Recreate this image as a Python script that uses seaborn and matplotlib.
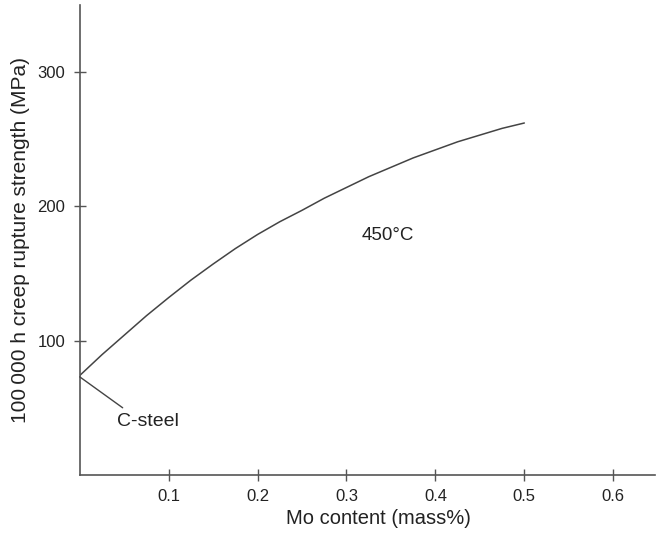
import matplotlib
matplotlib.use("Agg")
import matplotlib.pyplot as plt
import seaborn as sns
import pandas as pd

mo_content = [0.0, 0.025, 0.05, 0.075, 0.10, 0.125, 0.15, 0.175, 0.20, 0.225,
              0.25, 0.275, 0.30, 0.325, 0.35, 0.375, 0.40, 0.425, 0.45, 0.475, 0.50]
strength = [74, 89.5, 104, 118.5, 132, 145, 157, 168.5, 179, 188.5,
            197, 206, 214, 222, 229, 236, 242, 248, 253, 258, 262]
x_ticks = [0.1, 0.2, 0.3, 0.4, 0.5, 0.6]
y_ticks = [100, 200, 300]

sns.set_theme(style="white")
plt.rcParams["font.family"] = ["Liberation Sans", "DejaVu Sans"]

df = pd.DataFrame({"mo": mo_content, "s": strength})

fig = plt.figure(figsize=(6.59, 5.33), dpi=100)
ax = fig.add_axes([0.121, 0.109, 0.873, 0.882])

sns.lineplot(data=df, x="mo", y="s", ax=ax, color="#444444", linewidth=1.1)

ax.set_xlim(0, 0.647)
ax.set_ylim(0, 350)
ax.set_xticks(x_ticks)
ax.set_xticklabels([f"{t:.1f}" for t in x_ticks])
ax.set_yticks(y_ticks)
ax.set_yticklabels([str(t) for t in y_ticks])

for side in ["top", "right"]:
    ax.spines[side].set_visible(False)
for side in ["left", "bottom"]:
    ax.spines[side].set_color("#555555")
    ax.spines[side].set_linewidth(1.2)

ax.tick_params(axis="both", which="major", bottom=True, left=True,
               direction="inout", length=9, width=1.0,
               color="#555555", labelsize=12, labelcolor="#222222", pad=6)

ax.set_xlabel("Mo content (mass%)", fontsize=14.5, color="#222222")
ax.xaxis.set_label_coords(0.52, -0.072)
ax.set_ylabel("100\u2009000 h creep rupture strength (MPa)", fontsize=15,
              color="#222222", labelpad=5)

ax.text(0.346, 178, "450°C", fontsize=13.5, color="#222222", ha="center", va="center")
ax.annotate("C-steel", xy=(0, 73), xytext=(0.042, 40), fontsize=14,
            color="#222222", ha="left", va="center",
            arrowprops=dict(arrowstyle="-", color="#444444", lw=1.0,
                            shrinkA=2, shrinkB=0, relpos=(0.2, 1.0)))

fig.savefig("out.png", dpi=100)
